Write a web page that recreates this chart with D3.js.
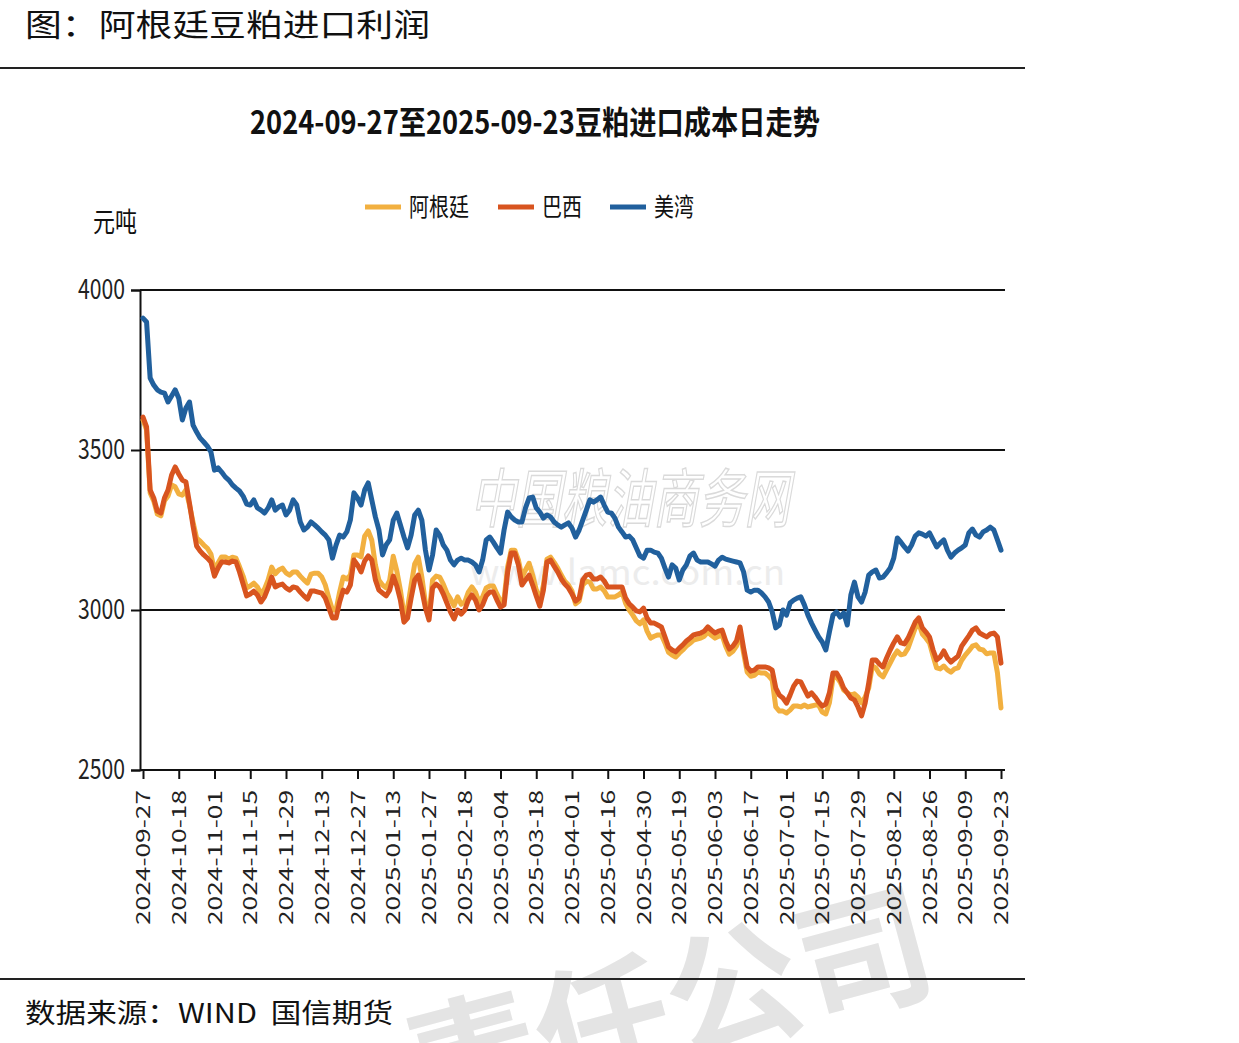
<!DOCTYPE html>
<html>
<head>
<meta charset="utf-8">
<script src="https://cdn.jsdelivr.net/npm/d3@7/dist/d3.min.js"></script>
<style>
	body { margin: 0; background: #fff; }
	text { font-family: "Noto Sans CJK SC", "Liberation Sans", sans-serif; }
</style>
</head>
<body>
<div id="chart"></div>
<script>
// x axis labels, one every 10 trading days
var tickLabels = ["2024-09-27", "2024-10-18", "2024-11-01", "2024-11-15", "2024-11-29",
	"2024-12-13", "2024-12-27", "2025-01-13", "2025-01-27", "2025-02-18", "2025-03-04",
	"2025-03-18", "2025-04-01", "2025-04-16", "2025-04-30", "2025-05-19", "2025-06-03",
	"2025-06-17", "2025-07-01", "2025-07-15", "2025-07-29", "2025-08-12", "2025-08-26",
	"2025-09-09", "2025-09-23"];
var tickStep = 10;
var yTicks = [2500, 3000, 3500, 4000];

// daily import cost, yuan/ton
var argentina = [
	3594, 3563, 3366, 3341, 3300, 3294, 3341, 3356, 3391, 3385,
	3363, 3359, 3375, 3328, 3274, 3225, 3215, 3203, 3193, 3175,
	3122, 3147, 3166, 3166, 3159, 3165, 3162, 3135, 3106, 3069,
	3075, 3084, 3072, 3050, 3066, 3094, 3134, 3113, 3125, 3131,
	3116, 3109, 3119, 3119, 3106, 3094, 3084, 3112, 3115, 3115,
	3103, 3078, 3037, 3000, 3000, 3056, 3103, 3097, 3109, 3172,
	3172, 3166, 3231, 3247, 3218, 3141, 3093, 3078, 3069, 3093,
	3168, 3122, 3062, 2987, 3006, 3078, 3144, 3165, 3103, 3022,
	2985, 3094, 3106, 3103, 3081, 3053, 3035, 3013, 3041, 3018,
	3025, 3056, 3072, 3056, 3025, 3041, 3069, 3075, 3075, 3050,
	3028, 3035, 3135, 3187, 3187, 3157, 3103, 3125, 3146, 3109,
	3063, 3028, 3078, 3159, 3165, 3149, 3131, 3109, 3090, 3078,
	3059, 3019, 3028, 3078, 3090, 3087, 3066, 3066, 3072, 3060,
	3041, 3041, 3041, 3047, 3056, 3021, 3000, 2984, 2966, 2957,
	2969, 2934, 2912, 2918, 2922, 2922, 2897, 2868, 2859, 2853,
	2865, 2875, 2887, 2896, 2906, 2909, 2912, 2918, 2931, 2921,
	2912, 2918, 2921, 2887, 2862, 2871, 2887, 2931, 2865, 2806,
	2793, 2796, 2806, 2803, 2803, 2794, 2781, 2697, 2684, 2684,
	2678, 2687, 2700, 2700, 2697, 2703, 2697, 2700, 2703, 2703,
	2681, 2675, 2710, 2787, 2791, 2775, 2750, 2741, 2734, 2738,
	2728, 2710, 2728, 2756, 2825, 2819, 2800, 2791, 2813, 2834,
	2856, 2872, 2860, 2863, 2881, 2912, 2943, 2959, 2925, 2912,
	2897, 2856, 2819, 2816, 2825, 2813, 2806, 2816, 2819, 2843,
	2859, 2872, 2887, 2891, 2878, 2875, 2863, 2866, 2866, 2804,
	2694];

var brazil = [
	3603, 3572, 3375, 3350, 3309, 3303, 3350, 3375, 3422, 3447,
	3425, 3406, 3400, 3334, 3262, 3200, 3184, 3172, 3162, 3150,
	3106, 3131, 3150, 3150, 3147, 3153, 3150, 3119, 3081, 3044,
	3050, 3059, 3047, 3025, 3041, 3069, 3103, 3072, 3078, 3081,
	3069, 3062, 3072, 3069, 3056, 3044, 3034, 3059, 3059, 3056,
	3053, 3037, 3006, 2975, 2975, 3025, 3062, 3056, 3078, 3156,
	3141, 3119, 3153, 3169, 3156, 3094, 3062, 3053, 3044, 3062,
	3106, 3075, 3031, 2962, 2975, 3037, 3094, 3109, 3062, 3006,
	2969, 3069, 3081, 3072, 3050, 3022, 2994, 2972, 3000, 2987,
	3000, 3031, 3047, 3031, 3000, 3016, 3044, 3056, 3056, 3031,
	3009, 3016, 3119, 3178, 3178, 3141, 3078, 3094, 3109, 3078,
	3044, 3012, 3062, 3150, 3156, 3137, 3119, 3097, 3081, 3069,
	3050, 3028, 3037, 3094, 3109, 3112, 3097, 3097, 3103, 3091,
	3072, 3072, 3072, 3072, 3072, 3037, 3019, 3009, 2997, 2994,
	3006, 2975, 2959, 2959, 2953, 2947, 2916, 2884, 2875, 2869,
	2881, 2891, 2903, 2912, 2922, 2925, 2928, 2934, 2947, 2937,
	2928, 2934, 2937, 2903, 2878, 2887, 2903, 2947, 2881, 2822,
	2809, 2812, 2822, 2822, 2822, 2819, 2812, 2756, 2734, 2725,
	2709, 2734, 2762, 2778, 2775, 2753, 2731, 2741, 2728, 2712,
	2700, 2706, 2741, 2803, 2803, 2784, 2756, 2741, 2725, 2719,
	2697, 2669, 2709, 2772, 2844, 2844, 2831, 2822, 2850, 2875,
	2897, 2916, 2897, 2894, 2912, 2937, 2962, 2975, 2944, 2931,
	2916, 2875, 2844, 2853, 2872, 2850, 2837, 2847, 2856, 2887,
	2903, 2919, 2937, 2944, 2928, 2922, 2916, 2925, 2928, 2916,
	2834];

var usGulf = [
	3912, 3900, 3725, 3703, 3688, 3681, 3678, 3650, 3669, 3688,
	3662, 3594, 3631, 3650, 3578, 3556, 3537, 3525, 3512, 3494,
	3437, 3444, 3431, 3416, 3406, 3391, 3381, 3372, 3356, 3331,
	3328, 3344, 3319, 3312, 3303, 3319, 3344, 3312, 3322, 3328,
	3297, 3312, 3344, 3328, 3275, 3250, 3259, 3275, 3266, 3256,
	3244, 3234, 3219, 3162, 3203, 3234, 3228, 3244, 3281, 3366,
	3350, 3328, 3375, 3397, 3344, 3291, 3250, 3172, 3203, 3219,
	3281, 3303, 3266, 3228, 3194, 3234, 3297, 3312, 3281, 3187,
	3125, 3172, 3250, 3234, 3203, 3187, 3156, 3141, 3156, 3162,
	3156, 3156, 3150, 3141, 3119, 3156, 3219, 3228, 3212, 3194,
	3178, 3250, 3306, 3291, 3281, 3275, 3275, 3319, 3350, 3353,
	3319, 3306, 3287, 3297, 3291, 3275, 3266, 3259, 3266, 3272,
	3256, 3228, 3250, 3281, 3312, 3344, 3337, 3344, 3353, 3328,
	3306, 3303, 3287, 3259, 3244, 3228, 3231, 3219, 3194, 3169,
	3162, 3187, 3187, 3181, 3178, 3162, 3131, 3103, 3141, 3131,
	3094, 3125, 3141, 3169, 3178, 3156, 3150, 3150, 3150, 3144,
	3137, 3156, 3165, 3159, 3156, 3153, 3150, 3147, 3119, 3062,
	3056, 3062, 3062, 3053, 3041, 3025, 2994, 2944, 2953, 3000,
	2984, 3022, 3031, 3037, 3041, 3016, 2984, 2959, 2937, 2916,
	2900, 2875, 2931, 2984, 2994, 2978, 2991, 2953, 3047, 3087,
	3041, 3025, 3056, 3109, 3119, 3125, 3100, 3103, 3116, 3131,
	3162, 3225, 3212, 3197, 3184, 3203, 3231, 3241, 3237, 3231,
	3241, 3219, 3197, 3209, 3219, 3187, 3165, 3178, 3187, 3194,
	3203, 3241, 3253, 3234, 3228, 3244, 3250, 3259, 3250, 3219,
	3187];

var seriesNames = ["阿根廷", "巴西", "美湾"];
var seriesColors = ["#f2b040", "#d8541f", "#21609d"];

// plot area
var plot = { left: 140, right: 1005, top: 290, bottom: 770 };

var svg = d3.select("#chart").append("svg")
	.attr("width", 1239)
	.attr("height", 1043)
	.style("background", "#fff");

// faint watermarks sitting behind everything
svg.append("text")
	.attr("transform", "translate(420,1125) rotate(-15)")
	.attr("font-size", 135)
	.attr("font-weight", "bold")
	.style("fill", "#e4e4e4")
	.text("责任公司");

svg.append("text")
	.attr("x", 470)
	.attr("y", 522)
	.attr("font-size", 64)
	.attr("font-style", "italic")
	.attr("textLength", 320)
	.attr("lengthAdjust", "spacingAndGlyphs")
	.style("fill", "none")
	.style("stroke", "#dadada")
	.style("stroke-width", 1.5)
	.text("中国粮油商务网");

svg.append("text")
	.attr("x", 470)
	.attr("y", 585)
	.attr("font-size", 34)
	.attr("textLength", 315)
	.attr("lengthAdjust", "spacingAndGlyphs")
	.style("fill", "#ececec")
	.text("www.lamc.com.cn");

// page header and footer
svg.append("text")
	.attr("x", 25)
	.attr("y", 36)
	.attr("font-size", 31)
	.attr("textLength", 405)
	.attr("lengthAdjust", "spacingAndGlyphs")
	.style("fill", "#111")
	.text("图：阿根廷豆粕进口利润");

svg.append("line")
	.attr("x1", 0).attr("x2", 1025)
	.attr("y1", 68).attr("y2", 68)
	.style("stroke", "#222")
	.style("stroke-width", 2);

svg.append("line")
	.attr("x1", 0).attr("x2", 1025)
	.attr("y1", 979).attr("y2", 979)
	.style("stroke", "#222")
	.style("stroke-width", 2);

svg.append("text")
	.attr("x", 25)
	.attr("y", 1023)
	.attr("font-size", 27)
	.attr("textLength", 368)
	.attr("lengthAdjust", "spacingAndGlyphs")
	.style("fill", "#111")
	.style("white-space", "pre")
	.text("数据来源：WIND  国信期货");

// chart title
svg.append("text")
	.attr("x", 250)
	.attr("y", 134)
	.attr("font-size", 32)
	.attr("font-weight", "bold")
	.attr("textLength", 570)
	.attr("lengthAdjust", "spacingAndGlyphs")
	.style("fill", "#111")
	.text("2024-09-27至2025-09-23豆粕进口成本日走势");

// unit label
svg.append("text")
	.attr("x", 93)
	.attr("y", 232)
	.attr("font-size", 27)
	.attr("textLength", 44)
	.attr("lengthAdjust", "spacingAndGlyphs")
	.style("fill", "#111")
	.text("元吨");

// legend
var legendX = [365, 498, 610];
var legendW = [60, 40, 40];
var legend = svg.append("g")
	.selectAll("g")
	.data(seriesNames)
	.enter().append("g")
	.attr("transform", function (d, i) {
		return "translate(" + legendX[i] + ",207)";
	});

legend.append("line")
	.attr("x1", 0).attr("x2", 36)
	.style("stroke", function (d, i) { return seriesColors[i]; })
	.style("stroke-width", 5);

legend.append("text")
	.attr("x", 44)
	.attr("dy", "0.36em")
	.attr("font-size", 25)
	.attr("textLength", function (d, i) { return legendW[i]; })
	.attr("lengthAdjust", "spacingAndGlyphs")
	.style("fill", "#111")
	.text(function (d) { return d; });

// scales
var x = d3.scaleLinear()
	.domain([0, usGulf.length - 1])
	.range([143, 1001]);

var y = d3.scaleLinear()
	.domain([2500, 4000])
	.range([plot.bottom, plot.top]);

// horizontal grid lines
svg.append("g")
	.selectAll("line")
	.data(yTicks.slice(1))
	.enter().append("line")
	.attr("x1", plot.left).attr("x2", plot.right)
	.attr("y1", function (d) { return y(d); })
	.attr("y2", function (d) { return y(d); })
	.style("stroke", "#111")
	.style("stroke-width", 2);

// y axis
var yAxis = svg.append("g")
	.attr("transform", "translate(" + plot.left + ",0)")
	.call(d3.axisLeft(y).tickValues(yTicks).tickFormat(d3.format("d"))
		.tickSize(9).tickPadding(6));

yAxis.select(".domain").style("stroke", "#111").style("stroke-width", 2);
yAxis.selectAll(".tick line").style("stroke", "#111").style("stroke-width", 2);
yAxis.selectAll(".tick text")
	.attr("font-size", 28)
	.attr("font-family", "Liberation Sans")
	.attr("textLength", 47)
	.attr("lengthAdjust", "spacingAndGlyphs")
	.style("fill", "#222");

// x axis
var tickIdx = tickLabels.map(function (d, i) { return i * tickStep; });
var xAxis = svg.append("g")
	.attr("transform", "translate(0," + plot.bottom + ")")
	.call(d3.axisBottom(x).tickValues(tickIdx).tickSize(9)
		.tickFormat(function (d) { return tickLabels[d / tickStep]; }));

xAxis.select(".domain").remove();
xAxis.append("line")
	.attr("x1", plot.left).attr("x2", plot.right)
	.style("stroke", "#111")
	.style("stroke-width", 2);
xAxis.selectAll(".tick line").style("stroke", "#111").style("stroke-width", 2);
xAxis.selectAll(".tick text")
	.attr("font-size", 19)
	.attr("font-family", "Liberation Sans")
	.attr("textLength", 135)
	.attr("lengthAdjust", "spacingAndGlyphs")
	.attr("text-anchor", "end")
	.attr("transform", "rotate(-90)")
	.attr("x", -20)
	.attr("y", 0)
	.attr("dy", "0.35em")
	.style("fill", "#222");

// the three cost lines
var line = d3.line()
	.x(function (d, i) { return x(i); })
	.y(function (d) { return y(d); });

svg.append("g")
	.selectAll("path")
	.data([argentina, brazil, usGulf])
	.enter().append("path")
	.attr("d", line)
	.style("fill", "none")
	.style("stroke", function (d, i) { return seriesColors[i]; })
	.style("stroke-width", 5)
	.style("stroke-linejoin", "round")
	.style("stroke-linecap", "round");
</script>
</body>
</html>
